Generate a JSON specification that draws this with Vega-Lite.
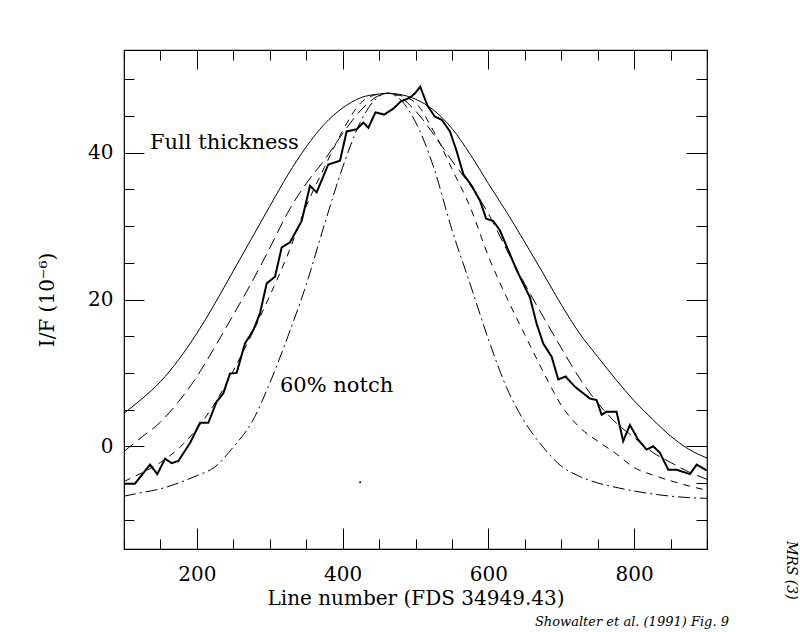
{
  "$schema": "https://vega.github.io/schema/vega-lite/v6.json",
  "width": 583,
  "height": 499,
  "autosize": {"type": "none"},
  "padding": {"left": 124, "top": 50, "right": 93, "bottom": 83},
  "background": "white",
  "config": {
    "view": {"stroke": "black", "strokeWidth": 1.2},
    "font": "DejaVu Serif",
    "axis": {
      "domain": false,
      "grid": false,
      "tickColor": "black",
      "tickWidth": 1,
      "labelFont": "DejaVu Serif",
      "labelFontSize": 20,
      "labelColor": "black",
      "labelFlush": false,
      "labelOverlap": false,
      "titleFont": "DejaVu Serif",
      "titleFontSize": 20,
      "titleFontWeight": "normal",
      "titleColor": "black"
    }
  },
  "datasets": {
    "full": [
      {"x": 100, "y": 4.5}, {"x": 125, "y": 6.5}, {"x": 150, "y": 8.8}, {"x": 175, "y": 11.8},
      {"x": 200, "y": 15.4}, {"x": 225, "y": 19.5}, {"x": 250, "y": 23.9}, {"x": 275, "y": 28.3},
      {"x": 300, "y": 32.7}, {"x": 325, "y": 37.0}, {"x": 350, "y": 40.8}, {"x": 375, "y": 43.9},
      {"x": 400, "y": 46.1}, {"x": 425, "y": 47.5}, {"x": 450, "y": 48.0}, {"x": 462, "y": 48.1},
      {"x": 475, "y": 48.0}, {"x": 500, "y": 47.3}, {"x": 525, "y": 45.8}, {"x": 550, "y": 43.3},
      {"x": 575, "y": 39.8}, {"x": 600, "y": 35.8}, {"x": 625, "y": 31.9}, {"x": 650, "y": 27.8},
      {"x": 675, "y": 23.6}, {"x": 700, "y": 19.3}, {"x": 725, "y": 15.4}, {"x": 750, "y": 12.2},
      {"x": 775, "y": 9.1}, {"x": 800, "y": 6.2}, {"x": 825, "y": 3.7}, {"x": 850, "y": 1.4},
      {"x": 875, "y": -0.4}, {"x": 900, "y": -1.6}
    ],
    "longdash": [
      {"x": 100, "y": -0.7}, {"x": 125, "y": 1.3}, {"x": 150, "y": 3.3}, {"x": 175, "y": 6.1},
      {"x": 200, "y": 9.5}, {"x": 225, "y": 13.6}, {"x": 250, "y": 17.9}, {"x": 275, "y": 22.3},
      {"x": 300, "y": 27.0}, {"x": 325, "y": 31.9}, {"x": 350, "y": 35.8}, {"x": 375, "y": 39.0},
      {"x": 400, "y": 42.6}, {"x": 425, "y": 45.8}, {"x": 450, "y": 47.8}, {"x": 462, "y": 48.1},
      {"x": 475, "y": 47.8}, {"x": 500, "y": 45.7}, {"x": 525, "y": 42.5}, {"x": 550, "y": 38.9},
      {"x": 575, "y": 35.6}, {"x": 600, "y": 31.7}, {"x": 625, "y": 26.8}, {"x": 650, "y": 22.1},
      {"x": 675, "y": 17.7}, {"x": 700, "y": 13.4}, {"x": 725, "y": 9.3}, {"x": 750, "y": 5.9},
      {"x": 775, "y": 3.2}, {"x": 800, "y": 1.2}, {"x": 825, "y": -0.8}, {"x": 850, "y": -2.2},
      {"x": 875, "y": -3.5}, {"x": 900, "y": -4.5}
    ],
    "shortdash": [
      {"x": 100, "y": -4.8}, {"x": 125, "y": -3.6}, {"x": 150, "y": -2.2}, {"x": 175, "y": -0.3},
      {"x": 200, "y": 2.4}, {"x": 225, "y": 5.9}, {"x": 250, "y": 10.3}, {"x": 275, "y": 15.2},
      {"x": 300, "y": 20.5}, {"x": 325, "y": 26.2}, {"x": 350, "y": 32.7}, {"x": 375, "y": 38.0},
      {"x": 400, "y": 43.0}, {"x": 425, "y": 46.8}, {"x": 450, "y": 48.0}, {"x": 462, "y": 48.1},
      {"x": 475, "y": 47.9}, {"x": 500, "y": 46.8}, {"x": 525, "y": 42.9}, {"x": 550, "y": 37.8},
      {"x": 575, "y": 32.6}, {"x": 600, "y": 25.9}, {"x": 625, "y": 20.3}, {"x": 650, "y": 15.2},
      {"x": 675, "y": 10.2}, {"x": 700, "y": 5.6}, {"x": 725, "y": 2.6}, {"x": 750, "y": 0.7},
      {"x": 775, "y": -1.0}, {"x": 800, "y": -2.9}, {"x": 825, "y": -3.9}, {"x": 850, "y": -4.7},
      {"x": 875, "y": -5.4}, {"x": 900, "y": -6.0}
    ],
    "notch": [
      {"x": 100, "y": -6.8}, {"x": 125, "y": -6.3}, {"x": 150, "y": -5.8}, {"x": 175, "y": -5.0},
      {"x": 200, "y": -4.0}, {"x": 225, "y": -2.8}, {"x": 250, "y": -0.1}, {"x": 275, "y": 3.2},
      {"x": 300, "y": 8.6}, {"x": 325, "y": 15.0}, {"x": 350, "y": 22.0}, {"x": 375, "y": 30.2},
      {"x": 400, "y": 38.0}, {"x": 425, "y": 44.3}, {"x": 450, "y": 47.7}, {"x": 462, "y": 48.1},
      {"x": 475, "y": 47.6}, {"x": 500, "y": 44.2}, {"x": 525, "y": 38.0}, {"x": 550, "y": 29.5},
      {"x": 575, "y": 22.1}, {"x": 600, "y": 14.6}, {"x": 625, "y": 8.0}, {"x": 650, "y": 3.3},
      {"x": 675, "y": -0.1}, {"x": 700, "y": -2.7}, {"x": 725, "y": -4.1}, {"x": 750, "y": -5.0},
      {"x": 775, "y": -5.6}, {"x": 800, "y": -6.1}, {"x": 825, "y": -6.5}, {"x": 850, "y": -6.8},
      {"x": 875, "y": -7.0}, {"x": 900, "y": -7.1}
    ],
    "observed": [
      {"x": 100.7, "y": -5.1}, {"x": 115, "y": -5.1}, {"x": 135.7, "y": -2.5}, {"x": 145.7, "y": -3.8},
      {"x": 156.3, "y": -1.7}, {"x": 165.4, "y": -2.3}, {"x": 174.6, "y": -2.0}, {"x": 190.6, "y": 0.45},
      {"x": 204.3, "y": 3.2}, {"x": 215.7, "y": 3.2}, {"x": 227.2, "y": 6.1}, {"x": 236.2, "y": 7.2},
      {"x": 245.4, "y": 9.9}, {"x": 254.6, "y": 10.0}, {"x": 266, "y": 14.0}, {"x": 277.4, "y": 15.8},
      {"x": 286.6, "y": 18.1}, {"x": 295.8, "y": 22.2}, {"x": 307.2, "y": 23.1}, {"x": 316.4, "y": 27.1},
      {"x": 327.8, "y": 27.8}, {"x": 343.8, "y": 30.7}, {"x": 355.2, "y": 35.5}, {"x": 364.4, "y": 34.6},
      {"x": 380.3, "y": 38.4}, {"x": 396.4, "y": 38.9}, {"x": 405.5, "y": 42.9}, {"x": 419.3, "y": 43.2},
      {"x": 428.4, "y": 44.1}, {"x": 435.3, "y": 43.4}, {"x": 445, "y": 45.5}, {"x": 457, "y": 45.2},
      {"x": 469.5, "y": 46.0}, {"x": 480, "y": 47.0}, {"x": 492.4, "y": 47.5}, {"x": 499.3, "y": 48.1},
      {"x": 506.5, "y": 49.0}, {"x": 516.5, "y": 46.4}, {"x": 526.7, "y": 44.9}, {"x": 536, "y": 44.5},
      {"x": 547.3, "y": 42.9}, {"x": 556.5, "y": 40.2}, {"x": 565.6, "y": 37.1}, {"x": 577.1, "y": 35.5},
      {"x": 588.4, "y": 33.5}, {"x": 597, "y": 31.0}, {"x": 606.8, "y": 30.7}, {"x": 615.9, "y": 29.4},
      {"x": 638.8, "y": 24.0}, {"x": 657, "y": 20.3}, {"x": 666.2, "y": 16.7}, {"x": 675.3, "y": 14.0},
      {"x": 686.8, "y": 12.2}, {"x": 695.9, "y": 9.1}, {"x": 706, "y": 9.5}, {"x": 718.8, "y": 8.1},
      {"x": 739.4, "y": 6.5}, {"x": 748.5, "y": 6.3}, {"x": 755.4, "y": 4.3}, {"x": 762.2, "y": 4.7},
      {"x": 775.9, "y": 4.7}, {"x": 785, "y": 0.7}, {"x": 794.2, "y": 2.9}, {"x": 805.6, "y": 0.9},
      {"x": 817, "y": -0.45}, {"x": 826.2, "y": 0.0}, {"x": 835.4, "y": -0.9}, {"x": 846.8, "y": -3.2},
      {"x": 858.3, "y": -3.2}, {"x": 876.6, "y": -3.8}, {"x": 885.8, "y": -2.5}, {"x": 899.5, "y": -3.3}
    ],
    "labels": [
      {"x": 135.7, "y": 40.5, "text": "Full thickness"},
      {"x": 314, "y": 7.4, "text": "60% notch"}
    ],
    "note": [
      {"x": 797, "y": -24.5, "text": "Showalter et al. (1991) Fig. 9"}
    ],
    "tag": [
      {"x": 1015, "y": -16.9, "text": "MRS (3)"}
    ],
    "speck": [
      {"x": 424, "y": -4.9}
    ]
  },
  "layer": [
    {
      "data": {"name": "full"},
      "mark": {"type": "line", "stroke": "black", "strokeWidth": 1, "interpolate": "monotone"},
      "encoding": {
        "x": {"field": "x", "type": "quantitative",
          "scale": {"domain": [100, 900], "nice": false, "zero": false},
          "axis": {"orient": "bottom", "values": [100,150,200,250,300,350,400,450,500,550,600,650,700,750,800,850,900], "tickSize": -10, "labels": false, "title": null}},
        "y": {"field": "y", "type": "quantitative",
          "scale": {"domain": [-14, 54], "nice": false, "zero": false},
          "axis": {"orient": "left", "values": [-10,-5,0,5,10,15,20,25,30,35,40,45,50], "tickSize": -10, "labels": false, "title": null}}
      }
    },
    {
      "data": {"name": "longdash"},
      "mark": {"type": "line", "stroke": "black", "strokeWidth": 1, "strokeDash": [12, 6], "interpolate": "monotone"},
      "encoding": {
        "x": {"field": "x", "type": "quantitative",
          "scale": {"domain": [100, 900], "nice": false, "zero": false},
          "axis": {"orient": "bottom", "values": [200, 400, 600, 800], "tickSize": -21, "labelPadding": 36, "title": "Line number (FDS 34949.43)", "titlePadding": 4}},
        "y": {"field": "y", "type": "quantitative",
          "scale": {"domain": [-14, 54], "nice": false, "zero": false},
          "axis": {"orient": "left", "values": [0, 20, 40], "tickSize": -20, "labelPadding": 31, "title": "I/F (10⁻⁶)", "titlePadding": 30}}
      }
    },
    {
      "data": {"name": "shortdash"},
      "mark": {"type": "line", "stroke": "black", "strokeWidth": 1, "strokeDash": [7, 6], "interpolate": "monotone"},
      "encoding": {
        "x": {"field": "x", "type": "quantitative",
          "scale": {"domain": [100, 900], "nice": false, "zero": false},
          "axis": {"orient": "top", "values": [100,150,200,250,300,350,400,450,500,550,600,650,700,750,800,850,900], "tickSize": -10, "labels": false, "title": null}},
        "y": {"field": "y", "type": "quantitative",
          "scale": {"domain": [-14, 54], "nice": false, "zero": false},
          "axis": {"orient": "right", "values": [-10,-5,0,5,10,15,20,25,30,35,40,45,50], "tickSize": -11, "labels": false, "title": null}}
      }
    },
    {
      "data": {"name": "notch"},
      "mark": {"type": "line", "stroke": "black", "strokeWidth": 1, "strokeDash": [12, 4, 2, 4], "interpolate": "monotone"},
      "encoding": {
        "x": {"field": "x", "type": "quantitative",
          "scale": {"domain": [100, 900], "nice": false, "zero": false},
          "axis": {"orient": "top", "values": [200, 400, 600, 800], "tickSize": -19, "labels": false, "title": null}},
        "y": {"field": "y", "type": "quantitative",
          "scale": {"domain": [-14, 54], "nice": false, "zero": false},
          "axis": {"orient": "right", "values": [0, 20, 40], "tickSize": -21, "labels": false, "title": null}}
      }
    },
    {
      "data": {"name": "observed"},
      "mark": {"type": "line", "stroke": "black", "strokeWidth": 2, "interpolate": "linear"},
      "encoding": {
        "x": {"field": "x", "type": "quantitative", "scale": {"domain": [100, 900], "nice": false, "zero": false}, "axis": null},
        "y": {"field": "y", "type": "quantitative", "scale": {"domain": [-14, 54], "nice": false, "zero": false}, "axis": null}
      }
    },
    {
      "data": {"name": "labels"},
      "mark": {"type": "text", "align": "left", "baseline": "alphabetic", "font": "DejaVu Serif", "fontSize": 21, "color": "black"},
      "encoding": {
        "x": {"field": "x", "type": "quantitative", "scale": {"domain": [100, 900], "nice": false, "zero": false}, "axis": null},
        "y": {"field": "y", "type": "quantitative", "scale": {"domain": [-14, 54], "nice": false, "zero": false}, "axis": null},
        "text": {"field": "text"}
      }
    },
    {
      "data": {"name": "note"},
      "mark": {"type": "text", "align": "center", "baseline": "alphabetic", "font": "DejaVu Serif", "fontStyle": "italic", "fontSize": 13, "color": "black"},
      "encoding": {
        "x": {"field": "x", "type": "quantitative", "scale": {"domain": [100, 900], "nice": false, "zero": false}, "axis": null},
        "y": {"field": "y", "type": "quantitative", "scale": {"domain": [-14, 54], "nice": false, "zero": false}, "axis": null},
        "text": {"field": "text"}
      }
    },
    {
      "data": {"name": "tag"},
      "mark": {"type": "text", "align": "center", "baseline": "middle", "angle": 90, "font": "DejaVu Serif", "fontStyle": "italic", "fontSize": 14, "color": "black"},
      "encoding": {
        "x": {"field": "x", "type": "quantitative", "scale": {"domain": [100, 900], "nice": false, "zero": false}, "axis": null},
        "y": {"field": "y", "type": "quantitative", "scale": {"domain": [-14, 54], "nice": false, "zero": false}, "axis": null},
        "text": {"field": "text"}
      }
    },
    {
      "data": {"name": "speck"},
      "mark": {"type": "point", "filled": true, "color": "black", "size": 4, "opacity": 1},
      "encoding": {
        "x": {"field": "x", "type": "quantitative", "scale": {"domain": [100, 900], "nice": false, "zero": false}, "axis": null},
        "y": {"field": "y", "type": "quantitative", "scale": {"domain": [-14, 54], "nice": false, "zero": false}, "axis": null}
      }
    }
  ],
  "resolve": {"axis": {"x": "independent", "y": "independent"}}
}
